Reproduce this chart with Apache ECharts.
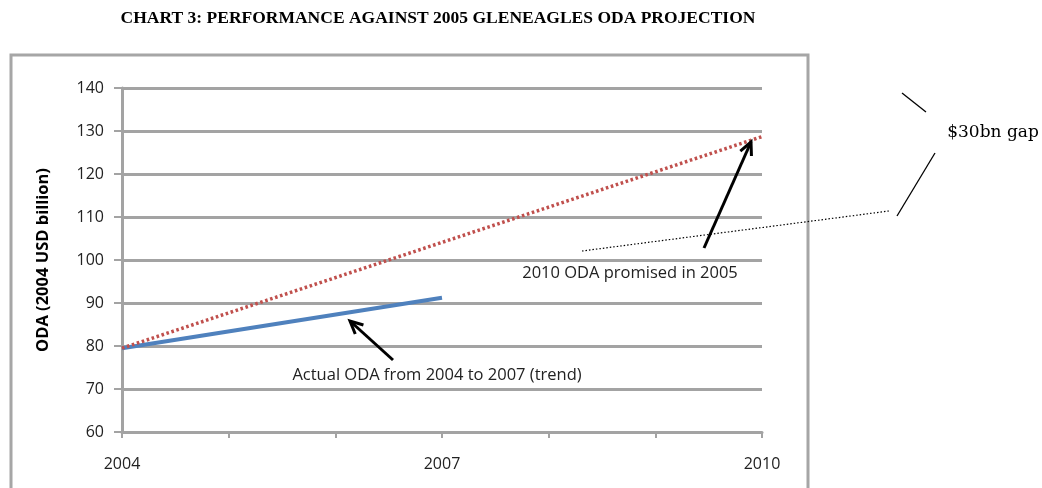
<!DOCTYPE html>
<html><head><meta charset="utf-8">
<script src="https://cdn.jsdelivr.net/npm/echarts@6/dist/echarts.min.js"></script>
<style>html,body{margin:0;padding:0;background:#fff}#c{width:1042px;height:488px}</style>
</head><body><div id="c"></div>
<script>
var titleText = 'CHART 3: PERFORMANCE AGAINST 2005 GLENEAGLES ODA PROJECTION';
var yAxisName = 'ODA (2004 USD billion)';
var shownYears = [2004, 2007, 2010];
var promisedYears = [2004, 2010];
var promisedValues = [79.5, 128.7];
var actualYears = [2004, 2007];
var actualValues = [79.5, 91.2];

function pairs(xs, ys){ return xs.map(function(x,i){return [x, ys[i]];}); }

var chart = echarts.init(document.getElementById('c'));
var sans = '"Open Sans", sans-serif';
var gridCol = '#a3a3a3';

function arrow(x1,y1,x2,y2){
  var ang = Math.atan2(y2-y1, x2-x1), L = 14, a = 0.45;
  return [
    {type:'line', shape:{x1:x1,y1:y1,x2:x2,y2:y2}, style:{stroke:'#000', lineWidth:3}, z:10},
    {type:'polyline', shape:{points:[[x2-L*Math.cos(ang-a), y2-L*Math.sin(ang-a)],[x2,y2],[x2-L*Math.cos(ang+a), y2-L*Math.sin(ang+a)]]}, style:{stroke:'#000', lineWidth:3, fill:null}, z:10}
  ];
}

var graphics = [
  {type:'rect', shape:{x:11,y:55,width:797,height:460}, style:{fill:null, stroke:'#a6a6a6', lineWidth:3}, z:-1},
  {type:'text', style:{text:titleText, x:438, y:18, align:'center', verticalAlign:'middle', font:'bold 17.5px "Liberation Serif", serif', fill:'#000'}},
  {type:'text', style:{text:'Actual ODA from 2004 to 2007 (trend)', x:437, y:375, align:'center', verticalAlign:'middle', font:'16.5px '+sans, fill:'#222'}},
  {type:'text', style:{text:'2010 ODA promised in 2005', x:630, y:273, align:'center', verticalAlign:'middle', font:'16.5px '+sans, fill:'#222'}},
  {type:'text', style:{text:'$30bn gap', x:993, y:133, align:'center', verticalAlign:'middle', font:'17px "DejaVu Serif", serif', fill:'#000'}},
  {type:'line', shape:{x1:902,y1:93,x2:926,y2:112}, style:{stroke:'#000', lineWidth:1.3}},
  {type:'line', shape:{x1:935,y1:153,x2:897,y2:216}, style:{stroke:'#000', lineWidth:1.3}},
  {type:'line', shape:{x1:582,y1:251,x2:889,y2:211}, style:{stroke:'#000', lineWidth:1.2, lineDash:[1.5,2]}}
].concat(arrow(393,360,350,321)).concat(arrow(704,248,751,142));

chart.setOption({
  animation:false,
  grid:{left:122, right:280, top:88, bottom:56},
  xAxis:{type:'value', min:2004, max:2010, interval:1,
    axisLine:{show:true, lineStyle:{color:gridCol, width:3}},
    axisTick:{show:true, length:6, lineStyle:{color:gridCol, width:2}},
    splitLine:{show:false},
    axisLabel:{margin:24, fontSize:16, fontFamily:sans, color:'#222',
      formatter:function(v){return shownYears.indexOf(v)>=0 ? String(v) : '';}}
  },
  yAxis:{type:'value', min:60, max:140, interval:10,
    name:yAxisName, nameLocation:'middle', nameGap:70, nameRotate:90,
    nameTextStyle:{fontSize:16.5, fontWeight:'bold', fontFamily:sans, color:'#000'},
    axisLine:{show:true, lineStyle:{color:gridCol, width:3}},
    axisTick:{show:true, length:8, lineStyle:{color:gridCol, width:2}},
    splitLine:{show:true, lineStyle:{color:gridCol, width:3}},
    axisLabel:{margin:18, fontSize:16, fontFamily:sans, color:'#222'}
  },
  series:[
    {type:'line', data:pairs(actualYears, actualValues), symbol:'none', lineStyle:{color:'#4f81bd', width:4}, z:3},
    {type:'line', data:pairs(promisedYears, promisedValues), symbol:'none', lineStyle:{color:'#c0504d', width:3.5, type:[2.6,2.6], cap:'butt'}, z:4}
  ],
  graphic:graphics
});
</script></body></html>
